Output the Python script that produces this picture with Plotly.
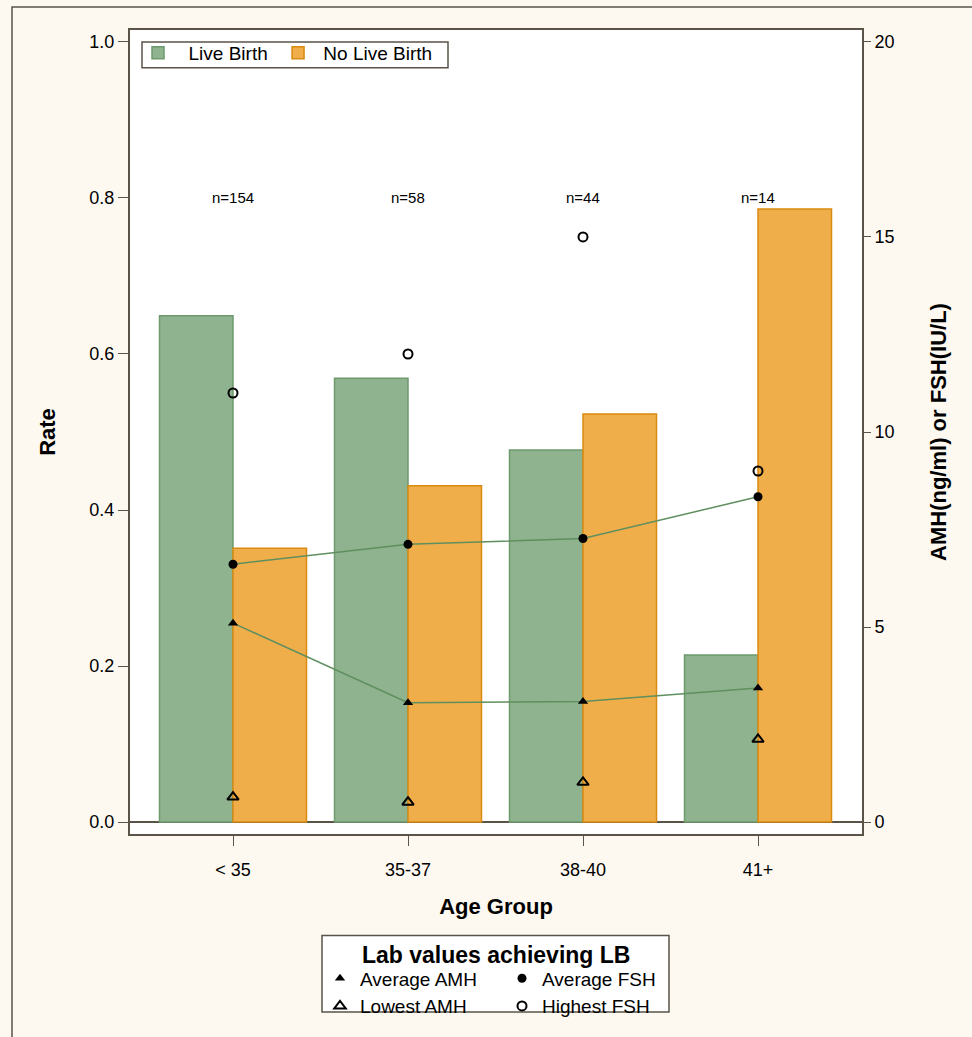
import plotly.graph_objects as go

categories = ["< 35", "35-37", "38-40", "41+"]
n_labels = ["n=154", "n=58", "n=44", "n=14"]
live_birth = [0.649, 0.569, 0.477, 0.214]
no_live_birth = [0.351, 0.431, 0.523, 0.786]
avg_amh = [5.10, 3.06, 3.09, 3.44]
lowest_amh = [0.64, 0.51, 1.02, 2.12]
avg_fsh = [6.61, 7.12, 7.27, 8.34]
highest_fsh = [11.0, 12.0, 15.0, 9.0]

xs = list(range(len(categories)))
FONT = "Liberation Sans, Arial, sans-serif"
AX = "#5a5448"
GREEN_LINE = "#5f8f5f"
NB = "&nbsp;"

fig = go.Figure()
fig.add_trace(go.Bar(x=xs, y=live_birth, name=NB * 2 + "Live Birth" + NB,
                     marker=dict(color="#8fb38f", line=dict(color="#6e9a6e", width=1.5)),
                     legend="legend"))
fig.add_trace(go.Bar(x=xs, y=no_live_birth, name=NB + "No Live Birth",
                     marker=dict(color="#f0ae4a", line=dict(color="#d98a10", width=1.5)),
                     legend="legend"))

# connecting lines
fig.add_trace(go.Scatter(x=xs, y=avg_fsh, mode="lines", line=dict(color=GREEN_LINE, width=1.5),
                         yaxis="y2", showlegend=False, hoverinfo="skip"))
fig.add_trace(go.Scatter(x=xs, y=avg_amh, mode="lines", line=dict(color=GREEN_LINE, width=1.5),
                         yaxis="y2", showlegend=False, hoverinfo="skip"))

fig.add_trace(go.Scatter(x=xs, y=avg_amh, mode="markers", name="Average AMH", yaxis="y2",
                         marker=dict(symbol="triangle-up", size=9, color="black"),
                         legend="legend2"))
fig.add_trace(go.Scatter(x=xs, y=lowest_amh, mode="markers", name="Lowest AMH", yaxis="y2",
                         marker=dict(symbol="triangle-up-open", size=10, color="black",
                                     line=dict(width=2, color="black")),
                         legend="legend2"))
fig.add_trace(go.Scatter(x=xs, y=avg_fsh, mode="markers", name="Average FSH", yaxis="y2",
                         marker=dict(symbol="circle", size=9, color="black"),
                         legend="legend3"))
fig.add_trace(go.Scatter(x=xs, y=highest_fsh, mode="markers", name="Highest FSH", yaxis="y2",
                         marker=dict(symbol="circle-open", size=9, color="black",
                                     line=dict(width=2, color="black")),
                         legend="legend3"))

annotations = []
for x, t in zip(xs, n_labels):
    annotations.append(dict(x=x, y=0.8, xref="x", yref="y", text=t, showarrow=False,
                            yanchor="middle",
                            font=dict(size=15, color="black", family=FONT)))
annotations.append(dict(x=(496 - 130) / 732, y=(838 - 960) / 808, xref="paper", yref="paper",
                        text="<b>Lab values achieving LB</b>", showarrow=False,
                        xanchor="center", yanchor="middle",
                        font=dict(size=23, color="black", family=FONT)))

shapes = [
    # bottom legend frame
    dict(type="rect", xref="paper", yref="paper",
         x0=(322 - 130) / 732, x1=(669 - 130) / 732,
         y0=(838 - 940) / 808, y1=(838 - 1017) / 808,
         line=dict(color=AX, width=1.5), fillcolor="white", layer="below"),
    # top legend frame
    dict(type="rect", xref="paper", yref="paper",
         x0=(142 - 130) / 732, x1=(448 - 130) / 732,
         y0=(838 - 42) / 808, y1=(838 - 68) / 808,
         line=dict(color=AX, width=1.5), fillcolor="white", layer="above"),
    # outer frame
    dict(type="rect", xref="paper", yref="paper",
         x0=(12 - 130) / 732, x1=(1000 - 130) / 732,
         y0=(838 - 7) / 808, y1=(838 - 1100) / 808,
         line=dict(color=AX, width=1.5), fillcolor="rgba(0,0,0,0)", layer="below"),
]

fig.update_layout(
    width=972, height=1037,
    margin=dict(l=130, r=110, t=30, b=199),
    paper_bgcolor="#fdf9f1",
    plot_bgcolor="white",
    barmode="group", bargap=0.16, bargroupgap=0,
    font=dict(family=FONT, size=18, color="black"),
    xaxis=dict(range=[-0.5886, 3.5943], tickvals=xs, ticktext=categories,
               showline=True, linecolor=AX, linewidth=2, mirror=True,
               ticks="outside", ticklen=10, tickcolor=AX, tickwidth=1,
               ticklabelstandoff=8,
               showgrid=False, zeroline=False,
               title=dict(text="<b>Age Group</b>", font=dict(size=22), standoff=20),
               tickfont=dict(size=18)),
    yaxis=dict(range=[-12 / 784, 1 + 12 / 784], tickvals=[0, 0.2, 0.4, 0.6, 0.8, 1.0],
               tickformat=".1f", showline=True, linecolor=AX, linewidth=2, mirror=True,
               ticks="outside", ticklen=10, tickcolor=AX, tickwidth=1,
               showgrid=False, zeroline=True, zerolinecolor=AX, zerolinewidth=1.5,
               title=dict(text="<b>Rate</b>", font=dict(size=22), standoff=28),
               tickfont=dict(size=18)),
    yaxis2=dict(range=[-20 * 12 / 784, 20 + 20 * 12 / 784], tickvals=[0, 5, 10, 15, 20],
                overlaying="y", side="right", showline=False,
                ticks="outside", ticklen=8, tickcolor=AX, tickwidth=1,
                showgrid=False, zeroline=False,
                title=dict(text="<b>AMH(ng/ml) or FSH(IU/L)</b>", font=dict(size=22), standoff=36),
                tickfont=dict(size=18)),
    legend=dict(orientation="h", x=(138 - 130) / 732, y=(838 - 34) / 808,
                xanchor="left", yanchor="top", bgcolor="rgba(0,0,0,0)",
                borderwidth=0, font=dict(size=19), traceorder="normal"),
    legend2=dict(orientation="v", x=(320 - 130) / 732, y=(838 - 964) / 808,
                 xanchor="left", yanchor="top", bgcolor="rgba(0,0,0,0)", borderwidth=0,
                 font=dict(size=19), tracegroupgap=0),
    legend3=dict(orientation="v", x=(502 - 130) / 732, y=(838 - 964) / 808,
                 xanchor="left", yanchor="top", bgcolor="rgba(0,0,0,0)", borderwidth=0,
                 font=dict(size=19), tracegroupgap=0),
    annotations=annotations,
    shapes=shapes,
)

fig.write_html("out.html", config={"displayModeBar": False},
               post_script="document.body.style.margin='0';document.body.style.background='#fdf9f1';")
